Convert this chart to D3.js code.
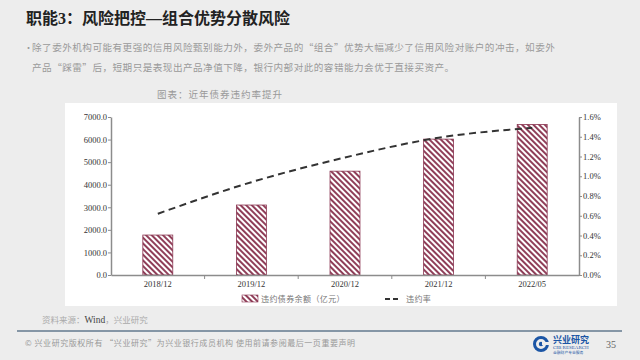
<!DOCTYPE html>
<html><head><meta charset="utf-8">
<script src="https://cdn.jsdelivr.net/npm/d3@7"></script>
<style>
html,body{margin:0;padding:0;background:#ededed;}
svg{display:block;}
</style></head>
<body>
<svg id="c" width="640" height="360"></svg>
<script>
// ---- data ----
const categories = ["2018/12", "2019/12", "2020/12", "2021/12", "2022/05"];
const balance = [1770, 3100, 4600, 6020, 6670];      // 违约债券余额（亿元）
const rate = [0.0062, 0.0094, 0.0119, 0.0139, 0.0149]; // 违约率
const leftTicks = [0, 1000, 2000, 3000, 4000, 5000, 6000, 7000];
const rightTicks = [0, 0.002, 0.004, 0.006, 0.008, 0.010, 0.012, 0.014, 0.016];
const seriesNames = ["违约债券余额（亿元）", "违约率"];
const title = "职能3：风险把控—组合优势分散风险";
const bodyLines = [
  "除了委外机构可能有更强的信用风险甄别能力外，委外产品的“组合”优势大幅减少了信用风险对账户的冲击，如委外",
  "产品“踩雷”后，短期只是表现出产品净值下降，银行内部对此的容错能力会优于直接买资产。"
];
const chartTitle = "图表：近年债券违约率提升";

const svg = d3.select("#c");
const CJK = '"Noto Sans CJK SC", sans-serif';
const SERIF = '"Liberation Serif", "Noto Sans CJK SC", serif';

// background
svg.append("rect").attr("width", 640).attr("height", 360).attr("fill", "#ededed");

// hatch pattern
const defs = svg.append("defs");
const pat = defs.append("pattern").attr("id", "hatch").attr("patternUnits", "userSpaceOnUse")
  .attr("width", 4).attr("height", 4).attr("patternTransform", "rotate(-45)");
pat.append("rect").attr("width", 4).attr("height", 4).attr("fill", "#fff");
pat.append("line").attr("x1", 1).attr("y1", 0).attr("x2", 1).attr("y2", 4)
  .attr("stroke", "#8a3450").attr("stroke-width", 1.9);

// title
svg.append("text").attr("x", 26).attr("y", 24).text(title)
  .attr("font-family", SERIF).attr("font-weight", "bold").attr("font-size", 16).attr("fill", "#222");

// bullet text
svg.append("text").attr("x", 24).attr("y", 51).text("•").attr("font-size", 9).attr("fill", "#999")
  .attr("font-family", CJK);
svg.selectAll("text.body").data(bodyLines).enter().append("text").attr("class", "body")
  .attr("x", 32).attr("y", (d, i) => 51 + i * 20).text(d => d)
  .attr("font-family", CJK).attr("font-size", 9.6).attr("letter-spacing", 0.47).attr("fill", "#9a9a9a");

// chart subtitle
svg.append("text").attr("x", 157).attr("y", 98).text(chartTitle)
  .attr("font-family", CJK).attr("font-size", 9.5).attr("letter-spacing", 1.0).attr("fill", "#999");

// chart panel
svg.append("rect").attr("x", 65).attr("y", 103).attr("width", 552).attr("height", 203).attr("fill", "#fff");

// scales
const x = d3.scaleBand().domain(categories).range([111, 579]).paddingInner(0.68).paddingOuter(0.34);
const yL = d3.scaleLinear().domain([0, 7000]).range([275, 117]);
const yR = d3.scaleLinear().domain([0, 0.016]).range([275, 117]);

// bars
svg.append("g").selectAll("rect").data(categories).enter().append("rect")
  .attr("x", d => x(d)).attr("width", x.bandwidth())
  .attr("y", (d, i) => yL(balance[i])).attr("height", (d, i) => yL(0) - yL(balance[i]))
  .attr("fill", "url(#hatch)").attr("stroke", "#8a3450").attr("stroke-width", 0.8);

// line
const line = d3.line().x((d, i) => x(categories[i]) + x.bandwidth() / 2).y(d => yR(d)).curve(d3.curveMonotoneX);
svg.append("path").datum(rate).attr("d", line).attr("fill", "none")
  .attr("stroke", "#333").attr("stroke-width", 2).attr("stroke-dasharray", "7,4.5");

// axes
const axisColor = "#8c8c8c";
const gL = svg.append("g").attr("transform", "translate(111,0)")
  .call(d3.axisLeft(yL).tickValues(leftTicks).tickFormat(d3.format(".1f")).tickSize(3).tickSizeOuter(0));
const gR = svg.append("g").attr("transform", "translate(579,0)")
  .call(d3.axisRight(yR).tickValues(rightTicks).tickFormat(d3.format(".1%")).tickSize(3).tickSizeOuter(0));
[gL, gR].forEach(g => {
  g.select(".domain").attr("stroke", axisColor).attr("stroke-width", 1.5);
  g.selectAll(".tick line").attr("stroke", axisColor).attr("stroke-width", 1);
  g.selectAll(".tick text").attr("font-family", SERIF).attr("font-size", 8.5).attr("fill", "#333");
});
gL.selectAll(".tick text").attr("x", -4);
gR.selectAll(".tick text").attr("x", 4);

const gB = svg.append("g").attr("transform", "translate(0,275)")
  .call(d3.axisBottom(x).tickSize(0).tickPadding(6));
gB.select(".domain").attr("stroke", axisColor).attr("stroke-width", 1.5);
gB.selectAll(".tick text").attr("font-family", SERIF).attr("font-size", 8.5).attr("fill", "#333");
// boundary ticks between categories
const bounds = categories.slice(1).map(c => x(c) - (x.step() - x.bandwidth()) / 2);
gB.selectAll("line.bt").data(bounds).enter().append("line").attr("class", "bt")
  .attr("x1", d => d).attr("x2", d => d).attr("y1", 0).attr("y2", 4)
  .attr("stroke", axisColor).attr("stroke-width", 1);

// legend
const lg = svg.append("g");
lg.append("rect").attr("x", 242).attr("y", 295).attr("width", 16).attr("height", 7)
  .attr("fill", "url(#hatch)").attr("stroke", "#8a3450").attr("stroke-width", 0.6);
lg.append("text").attr("x", 261).attr("y", 302).text(seriesNames[0])
  .attr("font-family", CJK).attr("font-size", 8).attr("letter-spacing", 0.4).attr("fill", "#777");
lg.append("line").attr("x1", 385).attr("x2", 399).attr("y1", 299).attr("y2", 299)
  .attr("stroke", "#333").attr("stroke-width", 2).attr("stroke-dasharray", "5,3");
lg.append("text").attr("x", 406).attr("y", 302).text(seriesNames[1])
  .attr("font-family", CJK).attr("font-size", 8).attr("letter-spacing", 0.4).attr("fill", "#777");

// source
const src = svg.append("text").attr("x", 42).attr("y", 323).attr("font-size", 8.5).attr("fill", "#aaa");
src.append("tspan").text("资料来源：").attr("font-family", CJK);
src.append("tspan").text("Wind").attr("font-family", SERIF).attr("fill", "#444").attr("font-size", 9.5);
src.append("tspan").text("，兴业研究").attr("font-family", CJK);

// footer line
svg.append("line").attr("x1", 17).attr("x2", 622).attr("y1", 331).attr("y2", 331)
  .attr("stroke", "#8596a6").attr("stroke-width", 2);

// footer text
svg.append("text").attr("x", 25).attr("y", 346)
  .text("© 兴业研究版权所有    “兴业研究”为兴业银行成员机构   使用前请参阅最后一页重要声明")
  .attr("font-family", CJK).attr("font-size", 8).attr("letter-spacing", 0.55).attr("fill", "#999");

// logo
const logo = svg.append("g").attr("transform", "translate(541,344)");
logo.append("circle").attr("r", 6.5).attr("fill", "none").attr("stroke", "#1b55a5").attr("stroke-width", 3);
logo.append("circle").attr("r", 2.2).attr("fill", "#1b55a5");
logo.append("rect").attr("x", 1).attr("y", -2).attr("width", 8).attr("height", 3).attr("fill", "#ededed");
logo.append("text").attr("x", 12).attr("y", -1).text("兴业研究").attr("font-family", CJK)
  .attr("font-size", 9).attr("fill", "#1b55a5").attr("font-weight", "bold");
logo.append("text").attr("x", 12).attr("y", 5).text("CIB RESEARCH").attr("font-family", SERIF)
  .attr("font-size", 5).attr("fill", "#1b55a5");
logo.append("text").attr("x", 12).attr("y", 10).text("金融财产专业服务").attr("font-family", CJK)
  .attr("font-size", 3.8).attr("fill", "#1b55a5");
svg.append("text").attr("x", 606).attr("y", 348).text("35").attr("font-family", SERIF)
  .attr("font-size", 10).attr("fill", "#666");
</script>
</body></html>
